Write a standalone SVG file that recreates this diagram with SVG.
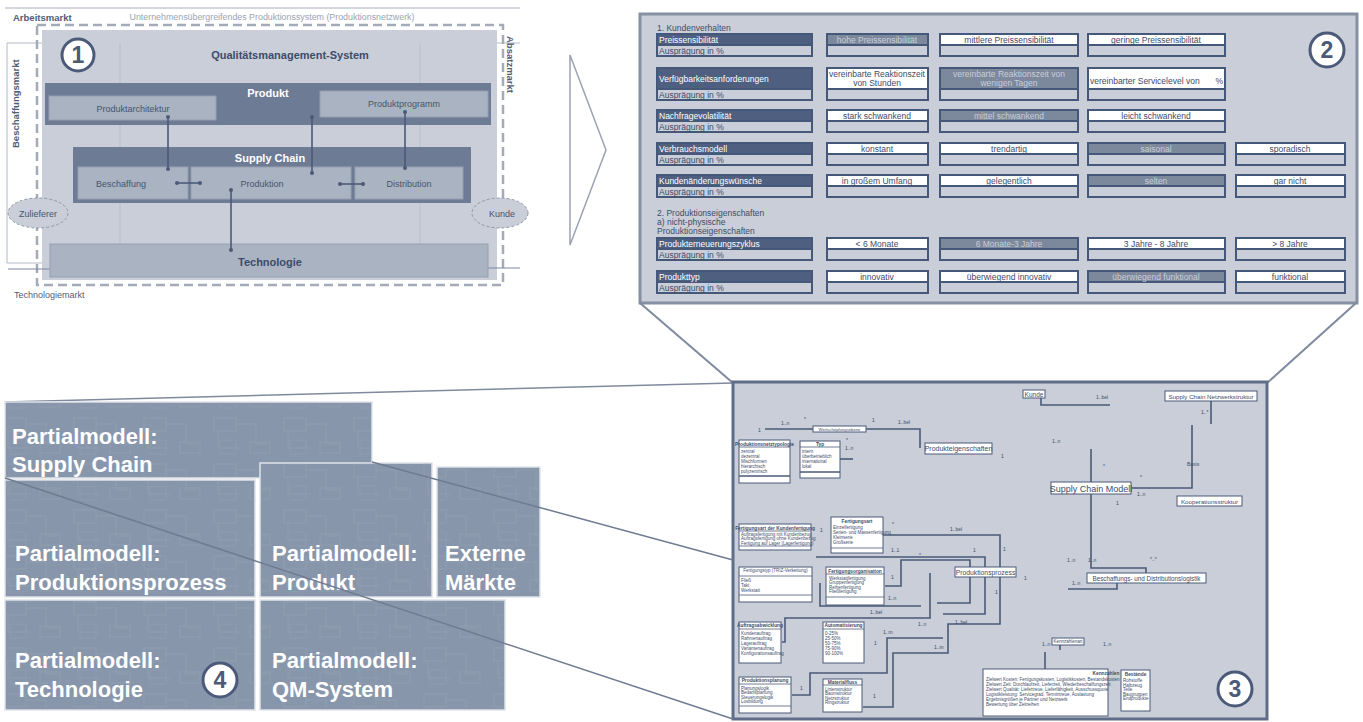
<svg xmlns="http://www.w3.org/2000/svg" width="1363" height="722" viewBox="0 0 1363 722">
<style>
text{font-family:"Liberation Sans",Arial,sans-serif}
.ln{stroke:#4b5a78;stroke-width:1.6;fill:none}
.thin{stroke:#b3bac6;stroke-width:1;fill:none}
.dot{fill:#4b5a78}
.band{fill:#6e7b94}
.lbox{fill:#a9b3c1;stroke:#95a0b1;stroke-width:1}
.lt{font-size:9px;fill:#46556f;text-anchor:middle}
.wb{font-size:11px;font-weight:bold;fill:#fff;text-anchor:middle}
.db{font-size:11px;font-weight:bold;fill:#3d4c69;text-anchor:middle}
.num{fill:#fff;stroke:#4b5a78;stroke-width:3}
.numt{font-size:23px;font-weight:bold;fill:#4b5a78;text-anchor:middle}
.cell{fill:#c9ced8;stroke:#46587a;stroke-width:2}
.on{fill:#fff;stroke:#46587a;stroke-width:2}
.off{fill:#7c889c;stroke:#46587a;stroke-width:2}
.hd{fill:#4e5f7f;stroke:#46587a;stroke-width:2}
.ct{font-size:8.5px;fill:#3d4c69;text-anchor:middle}
.cto{font-size:8.5px;fill:#c9ced8;text-anchor:middle}
.ht{font-size:8.5px;fill:#fff}
.at{font-size:8.5px;fill:#3d4c69}
.sec{font-size:8.5px;fill:#3d4c69}
.ub{fill:#fff;stroke:#4b5a78;stroke-width:1}
.ut{font-size:4.5px;fill:#3d4c69}
.uh{font-size:4.8px;font-weight:bold;fill:#3d4c69;text-anchor:middle}
.m{font-size:5px;fill:#3d4c69}
.blk{fill:#8896ab;stroke:#dfe3ea;stroke-width:1.5}
.tex{fill:url(#uml);opacity:0.35}
.pt{font-size:22px;font-weight:bold;fill:#fff}
</style>
<defs>
<pattern id="uml" width="70" height="46" patternUnits="userSpaceOnUse">
<rect x="4" y="4" width="22" height="13" fill="none" stroke="#aab5c5" stroke-width="0.7"/>
<path d="M26,10 H46 V30 H58 M8,17 V34 H30" fill="none" stroke="#aab5c5" stroke-width="0.7"/>
<rect x="40" y="28" width="20" height="11" fill="none" stroke="#aab5c5" stroke-width="0.7"/>
<rect x="10" y="26" width="16" height="14" fill="none" stroke="#9fabbd" stroke-width="0.6"/>
</pattern>
</defs>

<!-- ===== Production system overview ===== -->
<g id="produktionssystem">
<line x1="5" y1="8" x2="520" y2="8" stroke="#a7afbb" stroke-width="1"/>
<text x="13" y="21" font-size="9.5" font-weight="bold" fill="#4f5d76">Arbeitsmarkt</text>
<text x="272" y="20" font-size="8.5" fill="#9aa3b3" text-anchor="middle" textLength="285" lengthAdjust="spacingAndGlyphs">Unternehmensübergreifendes Produktionssystem (Produktionsnetzwerk)</text>
<path d="M120,43 H7 V263 H42" class="thin"/>
<path d="M420,43 H520" class="thin"/>
<rect x="42" y="30" width="455" height="250" fill="#c9ced8"/>
<rect x="37" y="25" width="466" height="260" fill="none" stroke="#a3abb8" stroke-width="2.5" stroke-dasharray="9 5"/>
<line x1="120" y1="43" x2="120" y2="244" stroke="#b8bfca" stroke-width="1"/>
<line x1="420" y1="43" x2="420" y2="244" stroke="#b8bfca" stroke-width="1"/>
<line x1="8" y1="269" x2="50" y2="269" stroke="#7c889c" stroke-width="1"/>
<line x1="488" y1="268" x2="520" y2="268" stroke="#7c889c" stroke-width="1"/>
<text transform="translate(19,148) rotate(-90)" font-size="9.5" font-weight="bold" fill="#4f5d76">Beschaffungsmarkt</text>
<text transform="translate(507,36) rotate(90)" font-size="9.5" font-weight="bold" fill="#4f5d76">Absatzmarkt</text>
<text x="14" y="298" font-size="9" fill="#4f5d76">Technologiemarkt</text>
</g>

<g id="qm-system">
<text x="290" y="59" class="db">Qualitätsmanagement-System</text>
</g>

<g id="marker-1">
<circle cx="78" cy="55" r="16" class="num"/>
<text x="78" y="63" class="numt">1</text>
</g>

<g id="produkt">
<rect x="45" y="83" width="446" height="42" class="band"/>
<text x="268" y="97" class="wb">Produkt</text>
</g>
<g id="produktarchitektur">
<rect x="49" y="96" width="167" height="24" class="lbox"/>
<text x="133" y="112" class="lt">Produktarchitektur</text>
</g>
<g id="produktprogramm">
<rect x="320" y="91" width="168" height="26" class="lbox"/>
<text x="404" y="107" class="lt">Produktprogramm</text>
</g>

<g id="supply-chain">
<rect x="73" y="147" width="398" height="56" class="band"/>
<text x="270" y="162" class="wb">Supply Chain</text>
</g>
<g id="beschaffung">
<rect x="78" y="167" width="110" height="32" class="lbox"/>
<text x="121" y="187" class="lt">Beschaffung</text>
</g>
<g id="produktion">
<rect x="191" y="167" width="160" height="32" class="lbox"/>
<text x="262" y="187" class="lt">Produktion</text>
</g>
<g id="distribution">
<rect x="355" y="167" width="108" height="32" class="lbox"/>
<text x="409" y="187" class="lt">Distribution</text>
</g>

<g id="technologie">
<rect x="50" y="244" width="438" height="33" class="lbox"/>
<text x="270" y="266" class="db">Technologie</text>
</g>

<g id="zulieferer">
<ellipse cx="38" cy="213" rx="30" ry="15" fill="#c9ced8" stroke="#8f99aa" stroke-width="1" stroke-dasharray="3 2"/>
<text x="38" y="217" class="lt">Zulieferer</text>
</g>
<g id="kunde">
<ellipse cx="500" cy="213" rx="28" ry="15" fill="#c9ced8" stroke="#8f99aa" stroke-width="1" stroke-dasharray="3 2"/>
<text x="502" y="217" class="lt">Kunde</text>
</g>

<g id="verbindungen-1">
<path d="M168,117 V169" class="ln"/>
<circle cx="168" cy="117" r="2" class="dot"/><circle cx="168" cy="169" r="2" class="dot"/>
<path d="M312,117 V173" class="ln"/>
<circle cx="312" cy="117" r="2" class="dot"/><circle cx="312" cy="173" r="2" class="dot"/>
<path d="M405,112 V168" class="ln"/>
<circle cx="405" cy="112" r="2" class="dot"/><circle cx="405" cy="168" r="2" class="dot"/>
<path d="M177,183 H200" class="ln"/>
<circle cx="177" cy="183" r="2" class="dot"/><circle cx="200" cy="183" r="2" class="dot"/>
<path d="M340,184 H363" class="ln"/>
<circle cx="340" cy="184" r="2" class="dot"/><circle cx="363" cy="184" r="2" class="dot"/>
<path d="M231,190 V250" class="ln"/>
<circle cx="231" cy="190" r="2" class="dot"/><circle cx="231" cy="250" r="2" class="dot"/>
</g>

<!-- transition arrow -->
<g id="pfeil">
<polygon points="570,55 606,150 570,245" fill="#fff" stroke="#9aa3b1" stroke-width="1.5"/>
</g>

<!-- ===== Characteristic table ===== -->
<g id="merkmale">
<rect x="640" y="14" width="717" height="289" fill="#c9ced8" stroke="#8590a2" stroke-width="3"/>
<text x="657" y="31" class="sec">1. Kundenverhalten</text>

<!-- row 1 -->
<rect x="657" y="34" width="155" height="22" class="cell"/><rect x="657" y="34" width="155" height="11" class="hd"/>
<text x="659" y="43" class="ht">Preissensibilität</text><text x="659" y="54" class="at">Ausprägung in %</text>
<rect x="827" y="34" width="101" height="22" class="cell"/><rect x="827" y="34" width="101" height="11" class="off"/><text x="877" y="43" class="cto">hohe Preissensibilität</text>
<rect x="940" y="34" width="138" height="22" class="cell"/><rect x="940" y="34" width="138" height="11" class="on"/><text x="1009" y="43" class="ct">mittlere Preissensibilität</text>
<rect x="1088" y="34" width="137" height="22" class="cell"/><rect x="1088" y="34" width="137" height="11" class="on"/><text x="1156" y="43" class="ct">geringe Preissensibilität</text>

<!-- row 2 -->
<rect x="657" y="68" width="155" height="32" class="cell"/><rect x="657" y="68" width="155" height="21" class="hd"/>
<text x="659" y="82" class="ht">Verfügbarkeitsanforderungen</text><text x="659" y="98" class="at">Ausprägung in %</text>
<rect x="827" y="68" width="101" height="32" class="cell"/><rect x="827" y="68" width="101" height="21" class="on"/>
<text x="877" y="77" class="ct">vereinbarte Reaktionszeit</text><text x="877" y="86" class="ct">von        Stunden</text>
<rect x="940" y="68" width="138" height="32" class="cell"/><rect x="940" y="68" width="138" height="21" class="off"/>
<text x="1009" y="77" class="cto">vereinbarte Reaktionszeit von</text><text x="1009" y="86" class="cto">wenigen Tagen</text>
<rect x="1088" y="68" width="137" height="32" class="cell"/><rect x="1088" y="68" width="137" height="21" class="on"/>
<text x="1090" y="84" font-size="8.5" fill="#3d4c69">vereinbarter Servicelevel von</text><text x="1223" y="84" font-size="8.5" fill="#3d4c69" text-anchor="end">%</text>

<!-- row 3 -->
<rect x="657" y="110" width="155" height="22" class="cell"/><rect x="657" y="110" width="155" height="11" class="hd"/>
<text x="659" y="119" class="ht">Nachfragevolatilität</text><text x="659" y="130" class="at">Ausprägung in %</text>
<rect x="827" y="110" width="101" height="22" class="cell"/><rect x="827" y="110" width="101" height="11" class="on"/><text x="877" y="119" class="ct">stark schwankend</text>
<rect x="940" y="110" width="138" height="22" class="cell"/><rect x="940" y="110" width="138" height="11" class="off"/><text x="1009" y="119" class="cto">mittel schwankend</text>
<rect x="1088" y="110" width="137" height="22" class="cell"/><rect x="1088" y="110" width="137" height="11" class="on"/><text x="1156" y="119" class="ct">leicht schwankend</text>

<!-- row 4 -->
<rect x="657" y="143" width="155" height="22" class="cell"/><rect x="657" y="143" width="155" height="11" class="hd"/>
<text x="659" y="152" class="ht">Verbrauchsmodell</text><text x="659" y="163" class="at">Ausprägung in %</text>
<rect x="827" y="143" width="101" height="22" class="cell"/><rect x="827" y="143" width="101" height="11" class="on"/><text x="877" y="152" class="ct">konstant</text>
<rect x="940" y="143" width="138" height="22" class="cell"/><rect x="940" y="143" width="138" height="11" class="on"/><text x="1009" y="152" class="ct">trendartig</text>
<rect x="1088" y="143" width="137" height="22" class="cell"/><rect x="1088" y="143" width="137" height="11" class="off"/><text x="1156" y="152" class="cto">saisonal</text>
<rect x="1236" y="143" width="109" height="22" class="cell"/><rect x="1236" y="143" width="109" height="11" class="on"/><text x="1290" y="152" class="ct">sporadisch</text>

<!-- row 5 -->
<rect x="657" y="175" width="155" height="22" class="cell"/><rect x="657" y="175" width="155" height="11" class="hd"/>
<text x="659" y="184" class="ht">Kundenänderungswünsche</text><text x="659" y="195" class="at">Ausprägung in %</text>
<rect x="827" y="175" width="101" height="22" class="cell"/><rect x="827" y="175" width="101" height="11" class="on"/><text x="877" y="184" class="ct">in großem Umfang</text>
<rect x="940" y="175" width="138" height="22" class="cell"/><rect x="940" y="175" width="138" height="11" class="on"/><text x="1009" y="184" class="ct">gelegentlich</text>
<rect x="1088" y="175" width="137" height="22" class="cell"/><rect x="1088" y="175" width="137" height="11" class="off"/><text x="1156" y="184" class="cto">selten</text>
<rect x="1236" y="175" width="109" height="22" class="cell"/><rect x="1236" y="175" width="109" height="11" class="on"/><text x="1290" y="184" class="ct">gar nicht</text>

<text x="657" y="216" class="sec">2. Produktionseigenschaften</text>
<text x="657" y="225" class="sec">a) nicht-physische</text>
<text x="657" y="234" class="sec">Produktionseigenschaften</text>

<!-- row 6 -->
<rect x="657" y="238" width="155" height="22" class="cell"/><rect x="657" y="238" width="155" height="11" class="hd"/>
<text x="659" y="247" class="ht">Produkterneuerungszyklus</text><text x="659" y="258" class="at">Ausprägung in %</text>
<rect x="827" y="238" width="101" height="22" class="cell"/><rect x="827" y="238" width="101" height="11" class="on"/><text x="877" y="247" class="ct">&lt; 6 Monate</text>
<rect x="940" y="238" width="138" height="22" class="cell"/><rect x="940" y="238" width="138" height="11" class="off"/><text x="1009" y="247" class="cto">6 Monate-3 Jahre</text>
<rect x="1088" y="238" width="137" height="22" class="cell"/><rect x="1088" y="238" width="137" height="11" class="on"/><text x="1156" y="247" class="ct">3 Jahre - 8 Jahre</text>
<rect x="1236" y="238" width="109" height="22" class="cell"/><rect x="1236" y="238" width="109" height="11" class="on"/><text x="1290" y="247" class="ct">&gt; 8 Jahre</text>

<!-- row 7 -->
<rect x="657" y="271" width="155" height="22" class="cell"/><rect x="657" y="271" width="155" height="11" class="hd"/>
<text x="659" y="280" class="ht">Produkttyp</text><text x="659" y="291" class="at">Ausprägung in %</text>
<rect x="827" y="271" width="101" height="22" class="cell"/><rect x="827" y="271" width="101" height="11" class="on"/><text x="877" y="280" class="ct">innovativ</text>
<rect x="940" y="271" width="138" height="22" class="cell"/><rect x="940" y="271" width="138" height="11" class="on"/><text x="1009" y="280" class="ct">überwiegend innovativ</text>
<rect x="1088" y="271" width="137" height="22" class="cell"/><rect x="1088" y="271" width="137" height="11" class="off"/><text x="1156" y="280" class="cto">überwiegend funktional</text>
<rect x="1236" y="271" width="109" height="22" class="cell"/><rect x="1236" y="271" width="109" height="11" class="on"/><text x="1290" y="280" class="ct">funktional</text>
</g>
<g id="marker-2">
<circle cx="1327" cy="50" r="17" class="num"/>
<text x="1327" y="58" class="numt">2</text>
</g>

<!-- projection lines -->
<g id="projektion">
<line x1="640" y1="303" x2="733" y2="383" stroke="#7f8a9d" stroke-width="2"/>
<line x1="1356" y1="303" x2="1267" y2="383" stroke="#7f8a9d" stroke-width="2"/>
<line x1="5" y1="402" x2="733" y2="383" stroke="#7f8a9d" stroke-width="1.5"/>
</g>

<!-- ===== Supply chain class model ===== -->
<g id="modell">
<rect x="733" y="382" width="534" height="337" fill="#c9ced8" stroke="#5f6d88" stroke-width="3"/>
</g>
<g id="modell-verbindungen">
<path d="M1041,397 V405 H1110" class="ln"/>
<path d="M1211,401 V424" class="ln"/>
<path d="M1192,425 V488 H1132" class="ln"/>
<path d="M1091,449 V568 H1146 V573" class="ln"/>
<path d="M1117,583 V589 H1068" class="ln"/>
<path d="M765,429 H920 V448" class="ln"/>
<path d="M840,459 H853" class="ln"/>
<path d="M883,535 H1000 V624 H948 V653 H893 V707 H863" class="ln"/>
<path d="M816,557 H985 V614 H943" class="ln"/>
<path d="M885,586 H901 V560 H970 V603 H937" class="ln"/>
<path d="M820,583 V606 H921" class="ln"/>
<path d="M930,573 V618 H785 V642 H782" class="ln"/>
<path d="M943,638 H887 V673 H810 V695 H792" class="ln"/>
<path d="M1045,652 V669" class="ln"/>
<path d="M1060,645 V650" class="ln"/>
</g>
<g id="kunde-klasse">
<rect x="1023" y="390" width="22" height="8" class="ub"/>
<text x="1034" y="396.5" font-size="6.5" fill="#3d4c69" text-anchor="middle">Kunde</text>
</g>
<g id="netzwerkstruktur">
<rect x="1165" y="391" width="92" height="10" class="ub"/>
<text x="1211" y="398.5" font-size="6.2" fill="#3d4c69" text-anchor="middle">Supply Chain Netzwerkstruktur</text>
</g>
<g id="supply-chain-modell">
<rect x="1051" y="482" width="80" height="12" class="ub"/>
<text x="1091" y="491.5" font-size="9" fill="#3d4c69" text-anchor="middle">Supply Chain Modell</text>
</g>
<g id="kooperationsstruktur">
<rect x="1177" y="496" width="65" height="10" class="ub"/>
<text x="1209.5" y="503.5" font-size="6.2" fill="#3d4c69" text-anchor="middle">Kooperationsstruktur</text>
</g>
<g id="logistik">
<rect x="1087" y="573" width="119" height="10" class="ub"/>
<text x="1146.5" y="580.5" font-size="6.3" fill="#3d4c69" text-anchor="middle">Beschaffungs- und Distributionslogistik</text>
</g>
<g id="produkteigenschaften">
<rect x="925" y="443" width="67" height="11" class="ub"/>
<text x="958.5" y="451" font-size="7" fill="#3d4c69" text-anchor="middle">Produkteigenschaften</text>
</g>
<g id="produktionsprozess">
<rect x="955" y="567" width="61" height="10" class="ub"/>
<text x="985.5" y="574.5" font-size="6.8" fill="#3d4c69" text-anchor="middle">Produktionsprozess</text>
</g>
<g id="wertschoepfung">
<rect x="813" y="426" width="53" height="6" class="ub"/>
<text x="839.5" y="430.8" font-size="4.2" fill="#3d4c69" text-anchor="middle">Wertschöpfungsebene</text>
</g>
<g id="netztypologie">
<rect x="739" y="440" width="51" height="43" class="ub"/>
<line x1="739" y1="447" x2="790" y2="447" stroke="#4b5a78" stroke-width="0.8"/>
<line x1="739" y1="476" x2="790" y2="476" stroke="#4b5a78" stroke-width="1.5"/>
<text x="764.5" y="445.5" class="uh">Produktionsnetztypologie</text>
<text x="741" y="452.5" class="ut">zentral</text><text x="741" y="457.5" class="ut">dezentral</text><text x="741" y="462.5" class="ut">Mischformen</text><text x="741" y="467.5" class="ut">hierarchisch</text><text x="741" y="472.5" class="ut">polyzentrisch</text>
</g>
<g id="typ">
<rect x="800" y="441" width="40" height="37" class="ub"/>
<line x1="800" y1="447" x2="840" y2="447" stroke="#4b5a78" stroke-width="0.8"/>
<line x1="800" y1="472" x2="840" y2="472" stroke="#4b5a78" stroke-width="1.5"/>
<text x="820" y="445.8" class="uh">Typ</text>
<text x="802" y="452.5" class="ut">intern</text><text x="802" y="457.5" class="ut">überbetrieblich</text><text x="802" y="462.5" class="ut">international</text><text x="802" y="467.5" class="ut">lokal</text>
</g>
<g id="fertigungsart">
<rect x="831" y="517" width="52" height="36" class="ub"/>
<line x1="831" y1="548" x2="883" y2="548" stroke="#4b5a78" stroke-width="0.8"/>
<text x="857" y="522.5" class="uh">Fertigungsart</text>
<text x="833" y="528.5" class="ut">Einzelfertigung</text><text x="833" y="533.5" class="ut">Serien- und Massenfertigung</text><text x="833" y="538.5" class="ut">Kleinserie</text><text x="833" y="543.5" class="ut">Großserie</text>
</g>
<g id="kundenfertigung">
<rect x="739" y="524" width="72" height="26" class="ub"/>
<line x1="739" y1="531" x2="811" y2="531" stroke="#4b5a78" stroke-width="0.8"/>
<line x1="739" y1="546" x2="811" y2="546" stroke="#4b5a78" stroke-width="0.8"/>
<text x="775" y="529.5" class="uh">Fertigungsart der Kundenfertigung</text>
<text x="741" y="535.5" class="ut">Auftragsfertigung mit Kundenbezug</text><text x="741" y="540" class="ut">Auftragsfertigung ohne Kundenbezug</text><text x="741" y="544.5" class="ut">Fertigung auf Lager (Lagerfertigung)</text>
</g>
<g id="fertigungstyp">
<rect x="739" y="567" width="73" height="35" class="ub"/>
<line x1="739" y1="576" x2="812" y2="576" stroke="#4b5a78" stroke-width="0.8"/>
<line x1="739" y1="595" x2="812" y2="595" stroke="#4b5a78" stroke-width="0.8"/>
<text x="775.5" y="572" class="ut" text-anchor="middle">Fertigungstyp (TRIZ-Verkettung)</text>
<text x="741" y="581.5" class="ut">Fließ</text><text x="741" y="586.5" class="ut">Takt</text><text x="741" y="591.5" class="ut">Werkstatt</text>
</g>
<g id="fertigungsorganisation">
<rect x="826" y="567" width="58" height="38" class="ub"/>
<line x1="826" y1="574" x2="884" y2="574" stroke="#4b5a78" stroke-width="0.8"/>
<line x1="826" y1="597" x2="884" y2="597" stroke="#4b5a78" stroke-width="0.8"/>
<text x="855" y="572.5" class="uh">Fertigungsorganisation</text>
<text x="829" y="579.5" class="ut">Werkstattfertigung</text><text x="829" y="584" class="ut">Gruppenfertigung</text><text x="829" y="588.5" class="ut">Reihenfertigung</text><text x="829" y="593" class="ut">Fließfertigung</text>
</g>
<g id="auftragsabwicklung">
<rect x="739" y="622" width="42" height="41" class="ub"/>
<line x1="739" y1="629" x2="781" y2="629" stroke="#4b5a78" stroke-width="0.8"/>
<text x="760" y="627" class="uh">Auftragsabwicklung</text>
<text x="741" y="634.5" class="ut">Kundenauftrag</text><text x="741" y="639.5" class="ut">Rahmenauftrag</text><text x="741" y="644.5" class="ut">Lagerauftrag</text><text x="741" y="649.5" class="ut">Variantenauftrag</text><text x="741" y="654.5" class="ut">Konfigurationsauftrag</text>
</g>
<g id="automatisierung">
<rect x="823" y="622" width="41" height="41" class="ub"/>
<line x1="823" y1="629" x2="864" y2="629" stroke="#4b5a78" stroke-width="0.8"/>
<text x="843.5" y="627" class="uh">Automatisierung</text>
<text x="825" y="634.5" class="ut">0-25%</text><text x="825" y="639.5" class="ut">25-50%</text><text x="825" y="644.5" class="ut">50-75%</text><text x="825" y="649.5" class="ut">75-90%</text><text x="825" y="654.5" class="ut">90-100%</text>
</g>
<g id="produktionsplanung">
<rect x="739" y="677" width="52" height="36" class="ub"/>
<line x1="739" y1="684" x2="791" y2="684" stroke="#4b5a78" stroke-width="0.8"/>
<line x1="739" y1="706" x2="791" y2="706" stroke="#4b5a78" stroke-width="0.8"/>
<text x="765" y="682" class="uh">Produktionsplanung</text>
<text x="741" y="689.5" class="ut">Planungslogik</text><text x="741" y="694" class="ut">Bedarfsplanung</text><text x="741" y="698.5" class="ut">Steuerungslogik</text><text x="741" y="703" class="ut">Losbildung</text>
</g>
<g id="materialfluss">
<rect x="823" y="679" width="39" height="33" class="ub"/>
<line x1="823" y1="685" x2="862" y2="685" stroke="#4b5a78" stroke-width="0.8"/>
<text x="842.5" y="683.8" class="uh">Materialfluss</text>
<text x="825" y="690.5" class="ut">Linienstruktur</text><text x="825" y="695" class="ut">Baumstruktur</text><text x="825" y="699.5" class="ut">Netzstruktur</text><text x="825" y="704" class="ut">Ringstruktur</text>
</g>
<g id="kennzahlen-kopf">
<rect x="1052" y="638" width="32" height="7" class="ub"/>
<text x="1068" y="643.2" class="ut" text-anchor="middle">Kennzahlenart</text>
</g>
<g id="kennzahlen">
<rect x="983" y="669" width="125" height="47" class="ub"/>
<text x="1106" y="674.5" class="uh" text-anchor="end">Kennzahlen</text>
<text x="986" y="681" class="ut">Zielwert Kosten: Fertigungskosten, Logistikkosten, Bestandskosten</text>
<text x="986" y="686" class="ut">Zielwert Zeit: Durchlaufzeit, Lieferzeit, Wiederbeschaffungszeit</text>
<text x="986" y="691" class="ut">Zielwert Qualität: Liefertreue, Lieferfähigkeit, Ausschussquote</text>
<text x="986" y="696" class="ut">Logistikleistung: Servicegrad, Termintreue, Auslastung</text>
<text x="986" y="701" class="ut">Ergebnisgrößen je Partner und Netzwerk</text>
<text x="986" y="706" class="ut">Bewertung über Zeitreihen</text>
</g>
<g id="bestandsarten">
<rect x="1121" y="670" width="29" height="41" class="ub"/>
<text x="1135.5" y="675.5" class="uh">Bestände</text>
<text x="1123" y="682" class="ut">Rohstoffe</text><text x="1123" y="686.5" class="ut">Halbzeug</text><text x="1123" y="691" class="ut">Teile</text><text x="1123" y="695.5" class="ut">Baugruppen</text><text x="1123" y="700" class="ut">Endprodukte</text>
</g>
<g id="multiplizitaeten">
<text x="781" y="425" class="m">1..n</text><text x="804" y="421" class="m">*</text><text x="758" y="432" class="m">1</text>
<text x="872" y="422" class="m">1</text><text x="898" y="424" class="m">1..bel</text>
<text x="846" y="442" class="m">*</text><text x="845" y="450" class="m">1..n</text>
<text x="1001" y="458" class="m">1</text>
<text x="1096" y="399" class="m">1..bel</text><text x="1201" y="414" class="m">1..*</text>
<text x="1052" y="443" class="m">1..n</text><text x="1103" y="468" class="m">*</text>
<text x="1140" y="479" class="m">*</text><text x="1187" y="466" class="m">Basis</text>
<text x="1137" y="496" class="m">1..n</text><text x="1116" y="505" class="m">1</text>
<text x="1067" y="562" class="m">1..n</text><text x="1088" y="562" class="m">1..n</text><text x="1150" y="561" class="m">*..*</text>
<text x="1072" y="585" class="m">1..n</text>
<text x="1042" y="646" class="m">1..n</text><text x="1103" y="646" class="m">1..n</text>
<text x="892" y="526" class="m">*</text><text x="950" y="531" class="m">1..bel</text>
<text x="820" y="532" class="m">1</text>
<text x="891" y="552" class="m">1..1</text><text x="919" y="557" class="m">*</text>
<text x="973" y="552" class="m">1</text><text x="1003" y="551" class="m">1</text>
<text x="891" y="579" class="m">1</text><text x="1024" y="580" class="m">1</text>
<text x="888" y="600" class="m">1..n</text><text x="870" y="614" class="m">1..bel</text>
<text x="918" y="626" class="m">1..n</text><text x="955" y="624" class="m">1..bel</text>
<text x="883" y="634" class="m">1..m</text><text x="934" y="649" class="m">1..m</text>
<text x="800" y="690" class="m">1</text><text x="873" y="698" class="m">1</text>
<text x="874" y="645" class="m">1</text><text x="995" y="594" class="m">1</text>
</g>
<g id="marker-3">
<circle cx="1235" cy="689" r="17" class="num"/>
<text x="1235" y="697" class="numt">3</text>
</g>

<!-- ===== Partial models ===== -->
<g id="pm-supply-chain">
<rect x="5" y="402" width="367" height="76" class="blk"/>
<rect x="5" y="402" width="367" height="76" class="tex"/>
<text x="12" y="444" class="pt">Partialmodell:</text>
<text x="12" y="472" class="pt">Supply Chain</text>
</g>
<g id="pm-produktionsprozess">
<rect x="5" y="480" width="250" height="117" class="blk"/>
<rect x="5" y="480" width="250" height="117" class="tex"/>
<text x="15" y="561" class="pt">Partialmodell:</text>
<text x="15" y="590" class="pt">Produktionsprozess</text>
</g>
<g id="pm-produkt">
<rect x="260" y="463" width="172" height="134" class="blk"/>
<rect x="260" y="463" width="172" height="134" class="tex"/>
<text x="272" y="561" class="pt">Partialmodell:</text>
<text x="272" y="590" class="pt">Produkt</text>
</g>
<g id="pm-externe-maerkte">
<rect x="437" y="467" width="103" height="130" class="blk"/>
<rect x="437" y="467" width="103" height="130" class="tex"/>
<text x="445" y="561" class="pt">Externe</text>
<text x="445" y="590" class="pt">Märkte</text>
</g>
<g id="pm-technologie">
<rect x="5" y="600" width="250" height="110" class="blk"/>
<rect x="5" y="600" width="250" height="110" class="tex"/>
<text x="15" y="668" class="pt">Partialmodell:</text>
<text x="15" y="697" class="pt">Technologie</text>
</g>
<g id="pm-qm-system">
<rect x="260" y="600" width="245" height="110" class="blk"/>
<rect x="260" y="600" width="245" height="110" class="tex"/>
<text x="272" y="668" class="pt">Partialmodell:</text>
<text x="272" y="697" class="pt">QM-System</text>
</g>
<g id="marker-4">
<circle cx="220" cy="680" r="17" class="num"/>
<text x="220" y="688" class="numt">4</text>
</g>
<g id="projektion-vorn">
<line x1="5" y1="478" x2="733" y2="719" stroke="#6f7b90" stroke-width="1.5"/>
<line x1="372" y1="462" x2="733" y2="560" stroke="#6f7b90" stroke-width="1.5"/>
</g>
</svg>
